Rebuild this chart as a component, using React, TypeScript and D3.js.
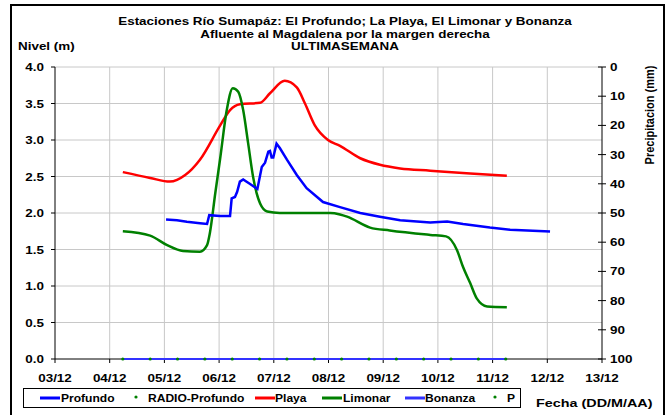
import React from "react";
import * as d3 from "d3";

// ---- data (day of month, December) ----
const xTickLabels = ["03/12","04/12","05/12","06/12","07/12","08/12","09/12","10/12","11/12","12/12","13/12"];
const xTickDays = [3,4,5,6,7,8,9,10,11,12,13];
const yTicks = [0,0.5,1,1.5,2,2.5,3,3.5,4];
const y2Ticks = [0,10,20,30,40,50,60,70,80,90,100];

const playaDays = [4.24,4.74,5.10,5.38,5.65,6.02,6.2,6.38,6.75,6.93,7.2,7.42,7.57,7.75,7.99,8.21,8.58,8.94,9.31,9.86,10.59,11.26];
const playaVals = [2.56,2.48,2.43,2.52,2.73,3.2,3.41,3.49,3.51,3.64,3.81,3.72,3.5,3.2,3.0,2.92,2.75,2.66,2.61,2.58,2.54,2.51];

const limonarDays = [4.24,4.74,5.05,5.34,5.65,5.78,5.83,5.93,6.02,6.14,6.25,6.35,6.44,6.53,6.62,6.75,6.88,7.11,8.03,8.21,8.34,8.76,9.12,9.86,10.15,10.35,10.46,10.59,10.71,10.90,11.26];
const limonarVals = [1.75,1.69,1.56,1.48,1.47,1.56,1.72,2.27,2.75,3.41,3.71,3.66,3.41,2.96,2.5,2.13,2.02,2.0,2.0,1.98,1.95,1.80,1.76,1.70,1.68,1.49,1.26,1.04,0.83,0.72,0.71];

const profundoDays = [5.03,5.23,5.41,5.65,5.78,5.82,6.02,6.20,6.23,6.29,6.33,6.38,6.44,6.56,6.66,6.70,6.78,6.84,6.90,6.93,6.96,6.99,7.05,7.11,7.24,7.42,7.60,7.90,8.21,8.58,8.94,9.31,9.86,10.17,10.46,10.95,11.32,12.05];
const profundoVals = [1.91,1.90,1.88,1.86,1.85,1.97,1.96,1.96,2.20,2.22,2.29,2.43,2.46,2.40,2.35,2.33,2.63,2.69,2.84,2.85,2.76,2.76,2.95,2.89,2.73,2.52,2.34,2.15,2.08,2.0,1.95,1.90,1.87,1.885,1.85,1.80,1.77,1.745];

const bonanzaDays = [4.24,11.26];
const bonanzaVals = [0,0];

const pDays = [4.24,4.74,5.24,5.74,6.24,6.74,7.24,7.74,8.24,8.74,9.24,9.74,10.24,10.74,11.24];
const pVals = [0,0,0,0,0,0,0,0,0,0,0,0,0,0,0];

const titleLines = [
  "Estaciones Río Sumapáz: El Profundo; La Playa, El Limonar y Bonanza",
  "Afluente al Magdalena por la margen derecha",
  "ULTIMASEMANA",
];

const legendItems = [
  { label: "Profundo", type: "line", color: "#0000ff" },
  { label: "RADIO-Profundo", type: "dot", color: "#008000" },
  { label: "Playa", type: "line", color: "#ff0000" },
  { label: "Limonar", type: "line", color: "#008000" },
  { label: "Bonanza", type: "line", color: "#3333ff" },
  { label: "P", type: "dot", color: "#008000" },
];

const FONT = "'Liberation Sans', Arial, sans-serif";

function ST(props: { x: number; y: number; sx?: number; anchor?: string; size?: number; children: React.ReactNode }) {
  const { x, y, sx = 1.28, anchor = "start", size = 10.5, children } = props;
  return (
    <text transform={`translate(${x},${y}) scale(${sx},1)`} textAnchor={anchor as any} fontSize={size} fontWeight="bold" fill="#000">
      {children}
    </text>
  );
}

export default function App() {
  const L = 55, R = 602, T = 67, B = 359;
  const x = d3.scaleLinear().domain([3, 13]).range([L, R]);
  const y = d3.scaleLinear().domain([0, 4]).range([B, T]);
  const y2 = d3.scaleLinear().domain([0, 100]).range([T, B]);

  const lineSmooth = d3.line<[number, number]>().x(d => x(d[0])).y(d => y(d[1])).curve(d3.curveMonotoneX);
  const lineLinear = d3.line<[number, number]>().x(d => x(d[0])).y(d => y(d[1]));
  const zip = (a: number[], b: number[]) => a.map((v, i) => [v, b[i]] as [number, number]);

  const legendX = [40, 130, 255, 322, 405, 489];
  const legendTextX = [61, 148, 275, 343, 425, 507];

  return (
    <svg width={671} height={415} style={{ position: "absolute", left: 0, top: 0, background: "#fff" }} fontFamily={FONT}>
      <rect x={0} y={0} width={671} height={415} fill="#fff" />
      {/* outer frame */}
      <path d="M11,420 V5 H664 V420" fill="none" stroke="#000" strokeWidth={2} />

      {/* titles */}
      {titleLines.map((t, i) => (
        <ST key={i} x={345} y={25 + i * 12.5} anchor="middle">{t}</ST>
      ))}
      <ST x={18} y={50}>Nivel (m)</ST>

      {/* grid */}
      {yTicks.slice(1).map(v => (
        <line key={"gy" + v} x1={L} x2={R} y1={y(v)} y2={y(v)} stroke="#c8c8c8" strokeWidth={1} />
      ))}
      {xTickDays.slice(1, -1).map(d => (
        <line key={"gx" + d} x1={x(d)} x2={x(d)} y1={T} y2={B} stroke="#c8c8c8" strokeWidth={1} />
      ))}

      {/* axes */}
      <line x1={L} x2={L} y1={T} y2={B} stroke="#000" strokeWidth={1} />
      <line x1={L} x2={R} y1={B} y2={B} stroke="#000" strokeWidth={1} />
      <line x1={R} x2={R} y1={T} y2={B} stroke="#000" strokeWidth={1} />
      {yTicks.map(v => (
        <g key={"yt" + v}>
          <line x1={L - 4} x2={L} y1={y(v)} y2={y(v)} stroke="#000" />
          <ST x={L - 11} y={y(v) + 4} anchor="end">{v.toFixed(1)}</ST>
        </g>
      ))}
      {y2Ticks.map(v => (
        <g key={"y2t" + v}>
          <line x1={R - 4} x2={R + 4} y1={y2(v)} y2={y2(v)} stroke="#000" />
          <ST x={R + 8} y={y2(v) + 4}>{v}</ST>
        </g>
      ))}
      {xTickDays.map((d, i) => (
        <g key={"xt" + d}>
          <line x1={x(d)} x2={x(d)} y1={B} y2={B + 4} stroke="#000" />
          <ST x={x(d)} y={B + 23} anchor="middle">{xTickLabels[i]}</ST>
        </g>
      ))}
      <text transform="translate(654,115) rotate(-90) scale(1,1.2)" textAnchor="middle" fontSize={11} fontWeight="bold">Precipitacion (mm)</text>

      {/* series */}
      <path d={lineSmooth(zip(playaDays, playaVals)) || ""} fill="none" stroke="#ff0000" strokeWidth={2.5} />
      <path d={lineSmooth(zip(limonarDays, limonarVals)) || ""} fill="none" stroke="#008000" strokeWidth={2.5} />
      <path d={lineLinear(zip(profundoDays, profundoVals)) || ""} fill="none" stroke="#0000ff" strokeWidth={2.5} />
      <path d={lineLinear(zip(bonanzaDays, bonanzaVals)) || ""} fill="none" stroke="#3333ff" strokeWidth={2} />
      {pDays.map((d, i) => (
        <circle key={"p" + i} cx={x(d)} cy={y(pVals[i])} r={1.6} fill="#008000" />
      ))}

      {/* legend */}
      <rect x={23.5} y={388.5} width={497} height={19} fill="#fff" stroke="#000" strokeWidth={1} />
      {legendItems.map((it, i) => (
        <g key={"lg" + i}>
          {it.type === "line" ? (
            <line x1={legendX[i]} x2={legendX[i] + 20} y1={398} y2={398} stroke={it.color} strokeWidth={3} />
          ) : (
            <circle cx={legendX[i] + 6} cy={397} r={1.6} fill={it.color} />
          )}
          <ST x={legendTextX[i]} y={402} sx={1.15}>{it.label}</ST>
        </g>
      ))}
      <ST x={536} y={407} size={11.5} sx={1.25}>Fecha (DD/M/AA)</ST>
    </svg>
  );
}
